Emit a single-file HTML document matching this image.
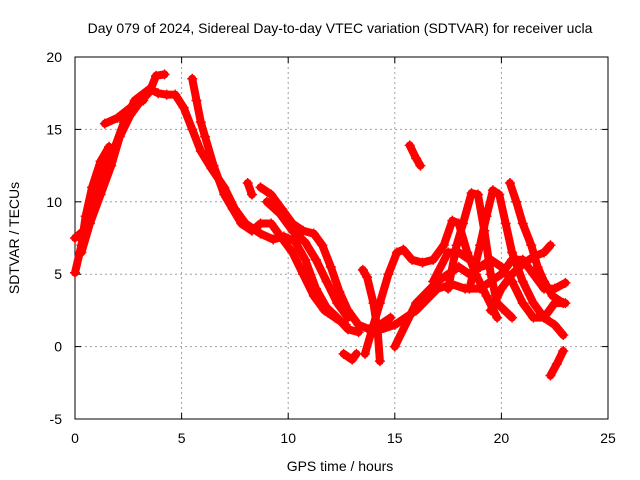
<!DOCTYPE html>
<html><head><meta charset="utf-8"><style>
body{margin:0;background:#fff}
svg{display:block;font-family:"Liberation Sans",sans-serif}
</style></head><body>
<svg width="640" height="480">
<rect width="640" height="480" fill="#fff"/>
<g id="grid"></g>
<g id="axes"></g>
<g id="marks"></g>
<text x="340" y="33" font-size="14" text-anchor="middle">Day 079 of 2024, Sidereal Day-to-day VTEC variation (SDTVAR) for receiver ucla</text>
<text x="340" y="471" font-size="14" text-anchor="middle">GPS time / hours</text>
<text x="0" y="0" font-size="14" text-anchor="middle" transform="translate(19,238) rotate(-90)">SDTVAR / TECUs</text>
</svg>
<script>
const xTicks=[0,5,10,15,20,25];
const yTicks=[-5,0,5,10,15,20];
const trackA=[[0,5.1],[0.3,7],[0.5,9],[0.8,11],[1.2,12.8],[1.6,13.8]];
const trackB=[[0,7.5],[0.4,8],[0.8,10],[1.2,11.5],[1.8,13.5],[2.3,15.5],[2.8,17],[3.5,17.8],[3.9,17.5],[4.3,17.4],[4.7,17.4],[5.1,16.5],[5.5,15],[5.9,13.5],[6.4,12.3],[7,11],[7.5,9.5],[8,8.5],[8.7,7.8],[9.3,7.4],[9.8,7.6],[10.3,7.3],[10.8,6],[11.3,4],[11.8,2.7],[12.3,2],[12.8,1.2],[13.3,1]];
const trackC=[[0.3,6.5],[0.7,8.5],[1.2,10.5],[1.7,12.5],[2.1,14.5],[2.6,16],[3.0,16.8],[3.5,17.6],[3.8,18.7],[4.2,18.8]];
const trackD=[[1.4,15.4],[2,15.8],[2.6,16.5],[3.2,17]];
const trackE=[[5.5,18.5],[5.7,17],[5.9,15.5],[6.1,14.5],[6.5,12.5],[7,10.5],[7.4,9.5],[7.8,8.5],[8.3,8],[8.7,8.5],[9.2,8.5],[9.7,7.5],[10.2,6.5],[10.7,5],[11.2,3.5],[11.7,2.5],[12.2,2],[12.7,1.5]];
const trackF=[[8.1,11.3],[8.3,10.5]];
const trackG=[[8.7,11],[9.2,10.5],[9.7,9.5],[10.2,8.5],[10.7,8],[11.2,7.8],[11.6,7],[12,5.5],[12.4,3.8],[12.8,2.5],[13.3,1.5],[13.8,1.2],[14.3,1.5],[14.8,2]];
const trackH=[[9,10],[9.6,9.2],[10.2,8],[10.8,7.2],[11.3,6],[11.8,4.5],[12.3,3],[12.8,2]];
const trackI=[[12.6,-0.5],[13,-0.9],[13.2,-0.5]];
const trackJ=[[13.5,5.3],[13.7,4.8],[14,3],[14.2,1],[14.3,-1]];
const trackK=[[13.6,-0.5],[13.9,1],[14.3,3],[14.7,5],[15.1,6.5],[15.4,6.7],[15.8,6],[16.3,5.8],[16.8,6],[17.3,7],[17.7,8.7],[18,8.5],[18.4,6.5],[18.8,5],[19.3,3.5],[19.8,2]];
const trackL=[[15,0],[16,3],[17,4.5],[18,5.5],[18.5,5],[19,5.5],[19.5,6],[20,5.5],[20.5,4.5],[21,3],[21.5,2],[22,2],[22.5,3],[23,3]];
const trackM=[[14,1],[15,1.5],[16,2.5],[17,4],[17.7,4.3],[18.3,4],[19,4],[19.5,4.5],[20,5],[20.5,6],[21,6],[21.5,5],[22,4],[22.5,4],[23,4.4]];
const trackN=[[15.7,13.9],[16.0,13],[16.2,12.5]];
const trackO=[[17.5,4],[17.9,7],[18.2,8.5],[18.6,10.6],[18.9,10.5],[19.2,8],[19.5,5],[19.8,3],[20.5,2]];
const trackP=[[18.5,4],[19,7],[19.3,9],[19.6,10.8],[19.9,10.5],[20.2,8.5],[20.5,6.5],[21,4.5],[21.5,3],[22,2],[22.5,1.5],[22.9,0.8]];
const trackQ=[[20.4,11.3],[20.7,10],[21,8.5],[21.4,7],[21.7,5.5],[22,4.5],[22.4,3.5],[22.9,3]];
const trackR=[[19.5,2.5],[20,4],[20.5,5],[21,5.7],[21.5,6.2],[22,6.5],[22.3,7]];
const trackS=[[22.3,-2],[22.6,-1.2],[22.9,-0.3]];
const trackT=[[16.8,4.5],[17.5,6.5],[18,6.5],[18.5,6],[19,5.5],[19.5,5.7]];
const tracks=[trackA,trackB,trackC,trackD,trackE,trackF,trackG,trackH,trackI,trackJ,trackK,trackL,trackM,trackN,trackO,trackP,trackQ,trackR,trackS,trackT];

const L=75,R=608,T=57,B=419,X0=0,X1=25,Y0=-5,Y1=20;
const sx=v=>L+(v-X0)/(X1-X0)*(R-L);
const sy=v=>B-(v-Y0)/(Y1-Y0)*(B-T);
const NS="http://www.w3.org/2000/svg";
function mk(tag,attrs,parent){const e=document.createElementNS(NS,tag);for(const k in attrs)e.setAttribute(k,attrs[k]);parent.appendChild(e);return e;}
const grid=document.getElementById('grid'),axes=document.getElementById('axes'),marks=document.getElementById('marks');
xTicks.forEach(t=>{
  const x=sx(t);
  if(t>X0&&t<X1){const g=mk('line',{x1:x,x2:x,y1:T,y2:B,stroke:'#a0a0a0','stroke-dasharray':'2,3'},grid);
  
  }
  mk('line',{x1:x,x2:x,y1:B,y2:B-6,stroke:'#000'},axes);
  mk('line',{x1:x,x2:x,y1:T,y2:T+6,stroke:'#000'},axes);
  const tx=mk('text',{x:x,y:B+24,'font-size':14,'text-anchor':'middle'},axes);tx.textContent=t;
  
  
});
yTicks.forEach(t=>{
  const y=sy(t);
  if(t>Y0&&t<Y1){const g=mk('line',{x1:L,x2:R,y1:y,y2:y,stroke:'#a0a0a0','stroke-dasharray':'2,3'},grid);
  
  }
  mk('line',{x1:L,x2:L+6,y1:y,y2:y,stroke:'#000'},axes);
  mk('line',{x1:R,x2:R-6,y1:y,y2:y,stroke:'#000'},axes);
  const tx=mk('text',{x:L-13,y:y+5,'font-size':14,'text-anchor':'end'},axes);tx.textContent=t;
  
  
});
const border=mk('rect',{x:L,y:T,width:R-L,height:B-T,fill:'none',stroke:'#000'},axes);


tracks.forEach(tr=>{
  const pts=tr.map(p=>sx(p[0])+','+sy(p[1])).join(' ');
  const pl=mk('polyline',{points:pts,fill:'none',stroke:'#f00','stroke-width':8,'stroke-linejoin':'round','stroke-linecap':'round'},marks);
  
  
  tr.forEach(p=>{
    const x=sx(p[0]),y=sy(p[1]);
    const m=mk('path',{d:`M${x-5},${y}H${x+5}M${x},${y-5}V${y+5}`,stroke:'#f00','stroke-width':1.5},marks);
    
    
  });
});
</script>
</body></html>
